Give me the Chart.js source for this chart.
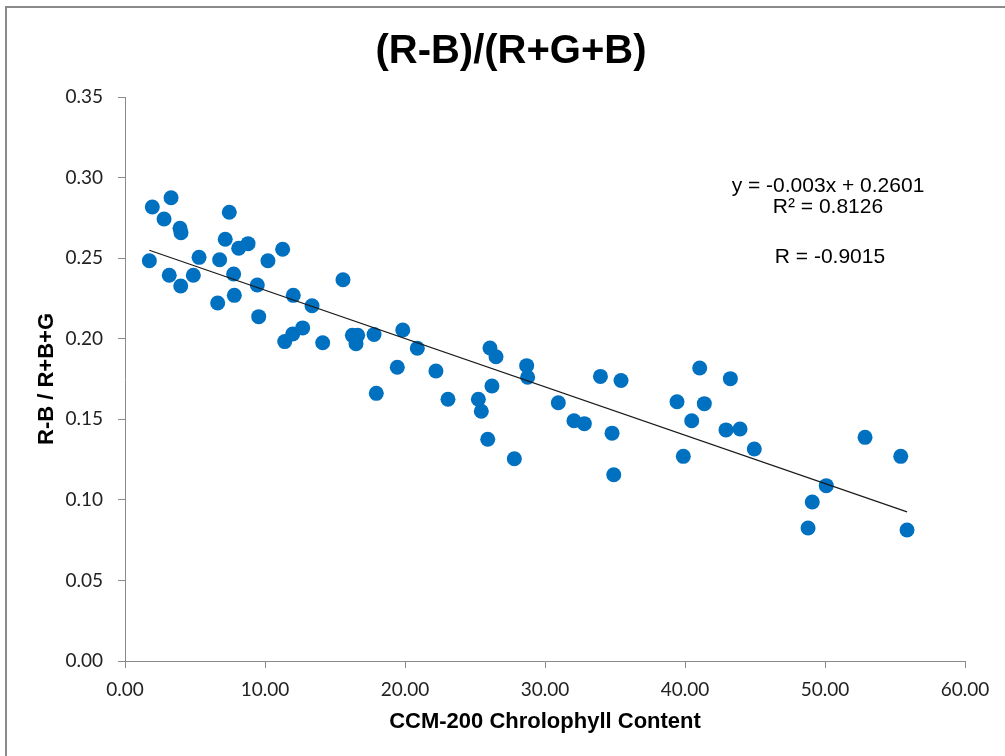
<!DOCTYPE html>
<html lang="en">
<head>
  <meta charset="UTF-8" />
  <title>(R-B)/(R+G+B) vs CCM-200</title>
  <script src="https://cdn.jsdelivr.net/npm/chart.js"></script>
  <style>
    html, body { margin:0; padding:0; background:#fff; }
    #chartRatio { display:block; }
  </style>
</head>
<body>
  <canvas id="chartRatio" width="1005" height="756"></canvas>

  <script>
    // CCM-200 readings and matching (R-B)/(R+G+B) values
    const ccmValues = [
      1.74, 1.95, 2.79, 3.29, 3.16, 3.93, 4.00, 3.98, 4.88, 5.29,
      6.62, 6.76, 7.16, 7.45, 7.76, 7.81, 8.12, 8.79, 9.45, 9.55,
      10.21, 11.26, 11.41, 11.98, 12.02, 12.69, 13.36, 14.12, 15.57, 16.24,
      16.62, 16.50, 17.79, 17.95, 19.45, 19.84, 20.88, 22.21, 23.07, 25.24,
      25.45, 25.91, 26.07, 26.21, 26.50, 27.81, 28.69, 28.76, 30.95, 32.07,
      32.81, 33.96, 35.43, 34.79, 34.91, 39.43, 39.88, 40.48, 41.05, 41.38,
      42.93, 43.24, 43.93, 44.95, 48.79, 49.09, 50.09, 52.86, 55.41, 55.86
    ];
    const ratioValues = [
      0.2484, 0.2817, 0.2743, 0.2875, 0.2394, 0.2685, 0.2658, 0.2327, 0.2394, 0.2505,
      0.2222, 0.2490, 0.2617, 0.2785, 0.2402, 0.2269, 0.2561, 0.2590, 0.2333, 0.2137,
      0.2484, 0.2555, 0.1982, 0.2029, 0.2269, 0.2067, 0.2205, 0.1975, 0.2366, 0.2021,
      0.2021, 0.1969, 0.2026, 0.1661, 0.1823, 0.2054, 0.1941, 0.1800, 0.1624, 0.1624,
      0.1550, 0.1376, 0.1942, 0.1707, 0.1888, 0.1255, 0.1833, 0.1761, 0.1603, 0.1491,
      0.1473, 0.1766, 0.1741, 0.1414, 0.1156, 0.1609, 0.1270, 0.1491, 0.1818, 0.1597,
      0.1434, 0.1752, 0.1440, 0.1316, 0.0825, 0.0987, 0.1088, 0.1388, 0.1270, 0.0813
    ];

    // linear fit shown on the chart
    const fitSlope = -0.003;
    const fitIntercept = 0.2601;
    const fitLabels = ['y = -0.003x + 0.2601', 'R\u00b2 = 0.8126', 'R = -0.9015'];

    const xTicks = { min: 0, max: 60, step: 10 };
    const yTicks = { min: 0, max: 0.35, step: 0.05 };

    const SANS = "'Liberation Sans', Arial, sans-serif";
    const TICK_FONT = "Lato, 'Liberation Sans', sans-serif";

    const points = ccmValues.map((x, i) => ({ x: x, y: ratioValues[i] }));
    const xLo = Math.min(...ccmValues);
    const xHi = Math.max(...ccmValues);
    const fitLine = [
      { x: xLo, y: fitIntercept + fitSlope * xLo },
      { x: xHi, y: fitIntercept + fitSlope * xHi }
    ];

    // frame, title and the fit text
    const decorations = {
      id: 'decorations',
      beforeDraw(chart) {
        const ctx = chart.ctx;
        ctx.save();
        ctx.strokeStyle = '#8a8a8a';
        ctx.lineWidth = 2;
        ctx.strokeRect(6, 7, 1200, 900);
        ctx.restore();
      },
      afterDraw(chart) {
        const ctx = chart.ctx;
        ctx.save();
        ctx.fillStyle = '#000';
        ctx.textAlign = 'center';
        ctx.textBaseline = 'alphabetic';
        ctx.font = 'bold 40px ' + SANS;
        ctx.fillText('(R-B)/(R+G+B)', 511, 63);
        ctx.font = '21px ' + SANS;
        ctx.fillText(fitLabels[0], 828, 192);
        ctx.fillText(fitLabels[1], 828, 213);
        ctx.fillText(fitLabels[2], 830, 263);
        ctx.restore();
      }
    };

    new Chart(document.getElementById('chartRatio'), {
      type: 'scatter',
      data: {
        datasets: [
          {
            label: 'Linear fit',
            data: fitLine,
            showLine: true,
            borderColor: '#1a1a1a',
            borderWidth: 1.2,
            pointRadius: 0,
            order: 0
          },
          {
            label: 'R-B / R+B+G',
            data: points,
            backgroundColor: '#0070c0',
            borderWidth: 0,
            pointRadius: 7.5,
            pointHoverRadius: 7.5,
            order: 1
          }
        ]
      },
      options: {
        responsive: false,
        animation: false,
        events: [],
        layout: { padding: { top: 97, right: 40, left: 0, bottom: 0 } },
        plugins: { legend: { display: false }, tooltip: { enabled: false } },
        scales: {
          x: {
            type: 'linear',
            min: xTicks.min, max: xTicks.max,
            afterFit: s => { s.height = 95; },
            border: { color: '#8a8a8a', width: 1 },
            grid: { drawOnChartArea: false, tickLength: 7, color: '#8a8a8a' },
            ticks: {
              stepSize: xTicks.step, padding: 10, color: '#222',
              font: { family: TICK_FONT, size: 19 },
              callback: v => v.toFixed(2)
            },
            title: {
              display: true, text: 'CCM-200 Chrolophyll Content', color: '#000',
              font: { family: SANS, size: 22, weight: 'bold' },
              padding: { top: 0, bottom: 21 }
            }
          },
          y: {
            type: 'linear',
            min: yTicks.min, max: yTicks.max,
            afterFit: s => { s.width = 125; },
            border: { color: '#8a8a8a', width: 1 },
            grid: { drawOnChartArea: false, tickLength: 7, color: '#8a8a8a' },
            ticks: {
              stepSize: yTicks.step, padding: 15, color: '#222',
              font: { family: TICK_FONT, size: 19 },
              callback: v => v.toFixed(2)
            },
            title: {
              display: true, text: 'R-B / R+B+G', color: '#000',
              font: { family: SANS, size: 22, weight: 'bold' },
              padding: { top: 34, bottom: 0 }
            }
          }
        }
      },
      plugins: [decorations]
    });
  </script>
</body>
</html>
